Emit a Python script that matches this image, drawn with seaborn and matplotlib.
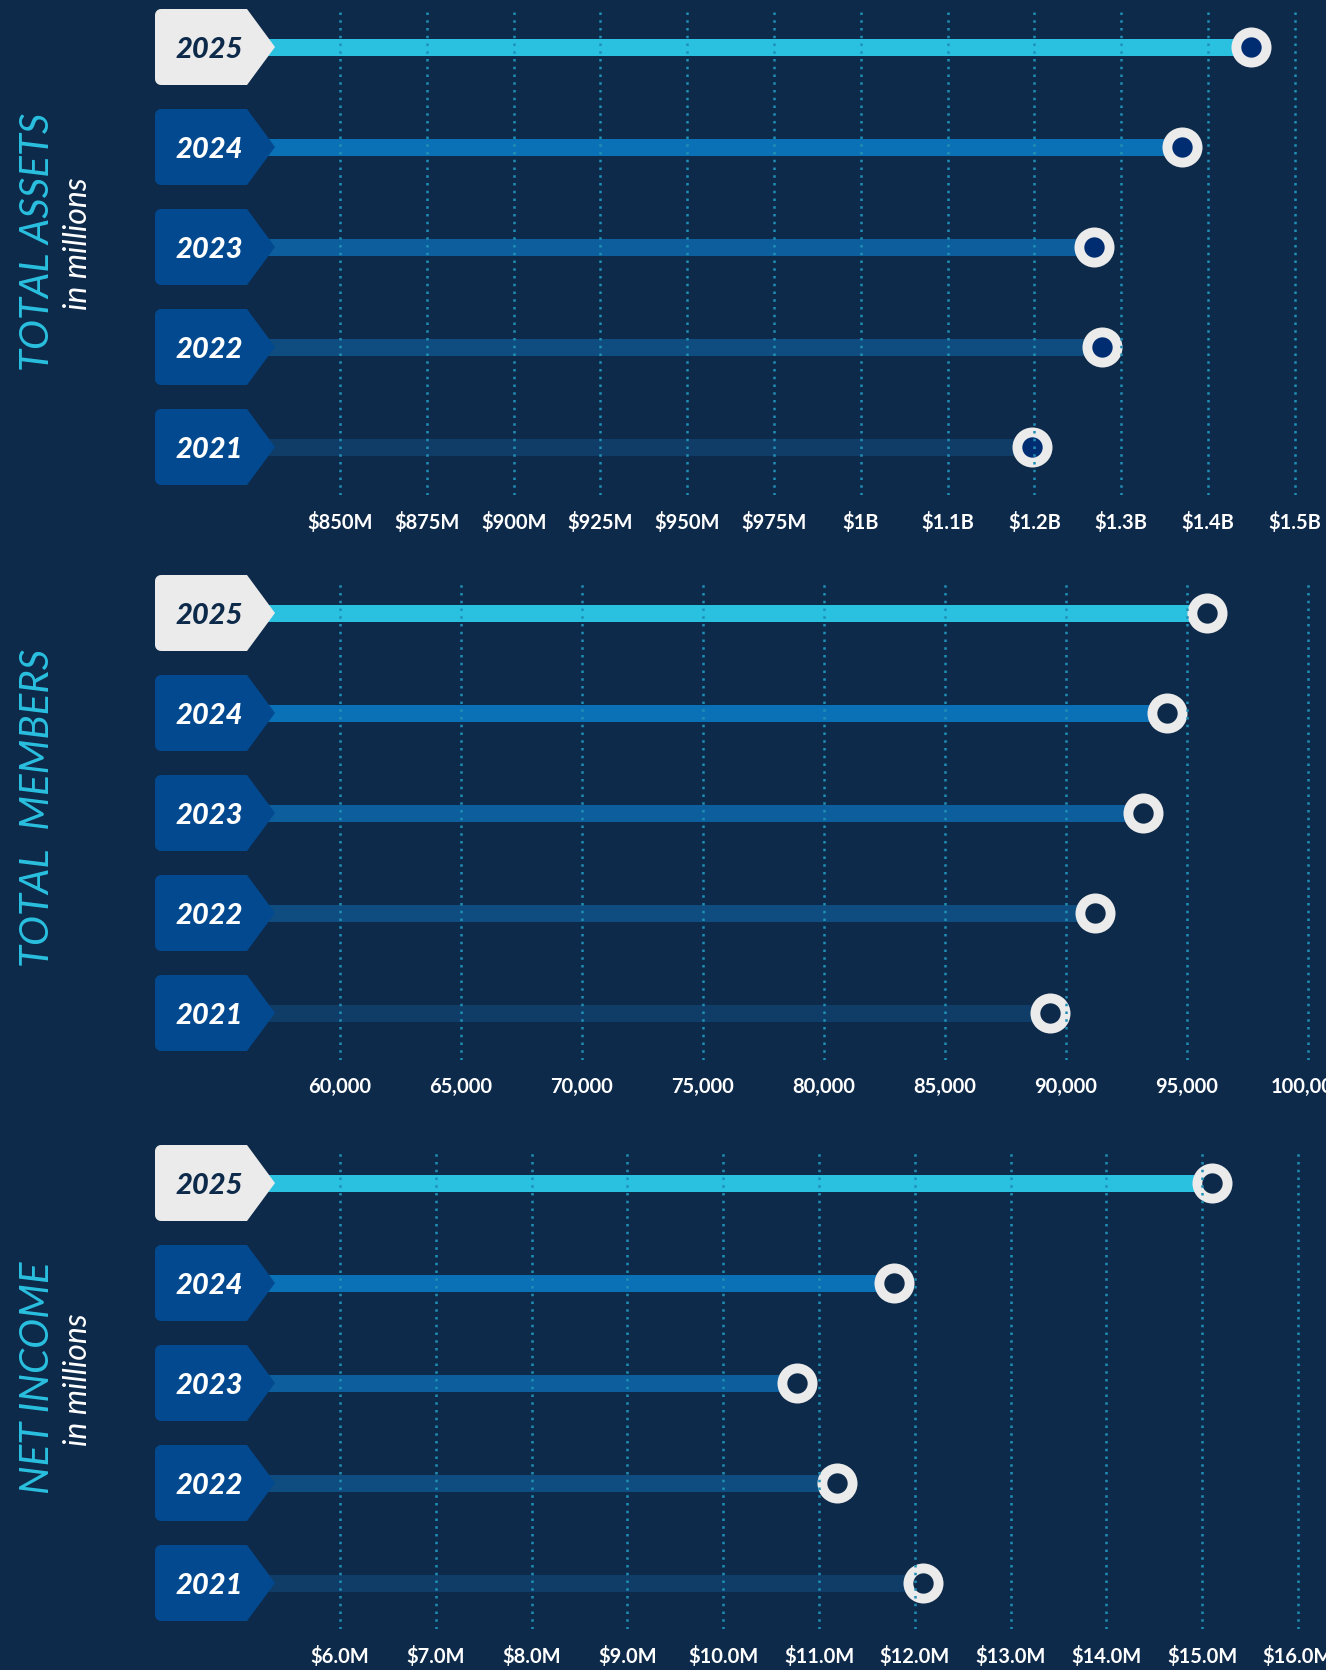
import numpy as np
import seaborn as sns
import matplotlib.pyplot as plt
from matplotlib.patches import Polygon
from matplotlib.transforms import blended_transform_factory

# dados
years = ["2025", "2024", "2023", "2022", "2021"]

assets = [1450, 1370, 1269, 1278, 1197]  # em milhões
asset_ticks = [850, 875, 900, 925, 950, 975, 1000, 1100, 1200, 1300, 1400, 1500]
asset_labels = ["$850M", "$875M", "$900M", "$925M", "$950M", "$975M",
                "$1B", "$1.1B", "$1.2B", "$1.3B", "$1.4B", "$1.5B"]

members = [95830, 94160, 93170, 91180, 89320]
member_ticks = [60000, 65000, 70000, 75000, 80000, 85000, 90000, 95000, 100000]
member_labels = ["60,000", "65,000", "70,000", "75,000", "80,000",
                 "85,000", "90,000", "95,000", "100,000"]

income = [15.10, 11.78, 10.77, 11.19, 12.09]  # em milhões
income_ticks = [6, 7, 8, 9, 10, 11, 12, 13, 14, 15, 16]
income_labels = ["$6.0M", "$7.0M", "$8.0M", "$9.0M", "$10.0M", "$11.0M",
                 "$12.0M", "$13.0M", "$14.0M", "$15.0M", "$16.0M"]

# cores
BG = "#0E2A4A"
GRID = "#1F8FB5"
CYAN = "#2AC0E0"
bar_colors = ["#2AC0E0", "#0B71B7", "#0C5E9C", "#0F4C7F", "#0F3D68"]
tag_colors = ["#EBEBEB", "#03498F", "#03498F", "#03498F", "#03498F"]
tag_text = [BG, "white", "white", "white", "white"]
RING = "#EBEBEB"

sns.set_theme(style="dark")
plt.rcParams["font.family"] = ["Lato", "DejaVu Sans"]

W, H = 1326, 1670
fig = plt.figure(figsize=(W / 100, H / 100), dpi=100, facecolor=BG)

AX_LEFT = 262


def ax_x(px):
    # pixel da figura -> fração do eixo
    return (px - AX_LEFT) / (W - AX_LEFT)


def piecewise_scale(ticks):
    tv = np.array(ticks, dtype=float)
    idx = np.arange(len(tv), dtype=float)

    def fwd(v):
        v = np.asarray(v, dtype=float)
        out = np.interp(v, tv, idx)
        out = np.where(v < tv[0], (v - tv[0]) / (tv[1] - tv[0]), out)
        out = np.where(v > tv[-1], idx[-1] + (v - tv[-1]) / (tv[-1] - tv[-2]), out)
        return out

    def inv(i):
        i = np.asarray(i, dtype=float)
        out = np.interp(i, idx, tv)
        out = np.where(i < 0, tv[0] + i * (tv[1] - tv[0]), out)
        out = np.where(i > idx[-1], tv[-1] + (i - idx[-1]) * (tv[-1] - tv[-2]), out)
        return out

    return fwd, inv


def draw_tag(ax, row, face, tcolor, label):
    tr = blended_transform_factory(ax.transAxes, ax.transData)
    left, body, tip, hh, r = 155, 247, 275, 38, 6
    pts = []
    # canto superior esquerdo arredondado
    for a in np.linspace(np.pi, 1.5 * np.pi, 6):
        pts.append((left + r + r * np.cos(a), -hh + r + r * np.sin(a)))
    pts += [(body, -hh), (tip, 0), (body, hh)]
    for a in np.linspace(0.5 * np.pi, np.pi, 6):
        pts.append((left + r + r * np.cos(a), hh - r + r * np.sin(a)))
    verts = [(ax_x(x), row + y / 100) for x, y in pts]
    ax.add_patch(Polygon(verts, closed=True, facecolor=face, edgecolor="none",
                         transform=tr, clip_on=False, zorder=5))
    ax.text(ax_x(209), row, label, transform=tr, ha="center",
            va="center_baseline", color=tcolor, fontsize=21,
            fontweight="black", fontstyle="italic", zorder=6)


def panel(top, bottom, row0, values, ticks, labels, xlim, inner, title, sub,
          scale=None):
    ax = fig.add_axes([AX_LEFT / W, 1 - bottom / H, (W - AX_LEFT) / W,
                       (bottom - top) / H])
    ax.set_facecolor(BG)
    sns.barplot(x=values, y=years, hue=years, order=years, hue_order=years,
                palette=bar_colors, saturation=1, orient="h", width=0.17,
                linewidth=0, legend=False, ax=ax, zorder=1)
    pos = np.arange(len(years))
    ax.scatter(values, pos, s=830, color=RING, linewidths=0, zorder=2,
               clip_on=False)
    ax.scatter(values, pos, s=215, color=inner, linewidths=0, zorder=2.1,
               clip_on=False)
    if scale is not None:
        ax.set_xscale("function", functions=scale)
    ax.set_xlim(*xlim)
    ax.set_ylim(4 + (bottom - row0 - 400) / 100, -(row0 - top) / 100)
    ax.set_xticks(ticks)
    ax.set_xticklabels(labels)
    ax.set_yticks([])
    ax.set_xlabel("")
    ax.set_ylabel("")
    ax.tick_params(axis="x", length=0, pad=12, labelsize=14.5,
                   labelcolor="white")
    for t in ax.get_xticklabels():
        t.set_fontweight("bold")
    ax.grid(axis="x", color=GRID, linestyle=(0, (1, 2.1)), linewidth=1.8)
    ax.grid(axis="y", visible=False)
    ax.set_axisbelow(False)
    for s in ax.spines.values():
        s.set_visible(False)

    for i, y in enumerate(years):
        draw_tag(ax, i, tag_colors[i], tag_text[i], y)

    tr = blended_transform_factory(ax.transAxes, ax.transData)
    ax.text(ax_x(38), 1.95, title, transform=tr, rotation=90, ha="center",
            va="center", color=CYAN, fontsize=29, fontstyle="italic")
    if sub:
        ax.text(ax_x(78), 1.97, sub, transform=tr, rotation=90, ha="center",
                va="center", color="white", fontsize=23, fontstyle="italic")
    return ax


panel(10, 495, 47, assets, asset_ticks, asset_labels, (827.5, 1536), "#002D72",
      "TOTAL ASSETS", "in millions", scale=piecewise_scale(asset_ticks))
panel(583, 1060, 613, members, member_ticks, member_labels, (56777, 100744), BG,
      "TOTAL  MEMBERS", None)
panel(1153, 1629, 1183, income, income_ticks, income_labels, (5.186, 16.292), BG,
      "NET INCOME", "in millions")

fig.savefig("out.png", dpi=100, facecolor=BG)
